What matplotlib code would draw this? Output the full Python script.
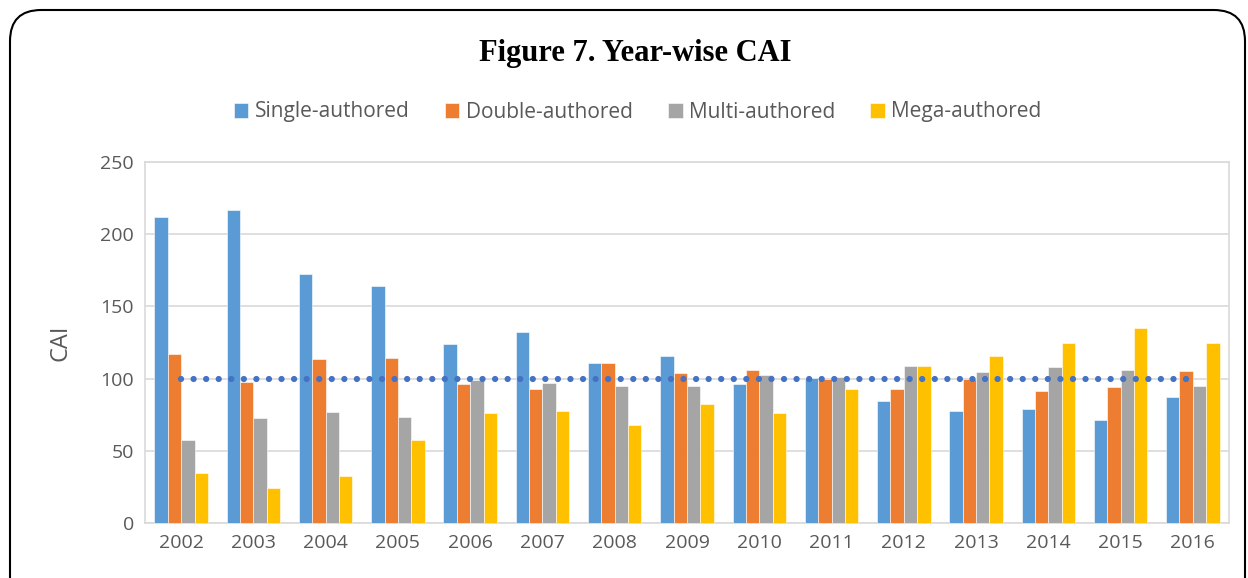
import matplotlib.pyplot as plt
import numpy as np
from matplotlib.patches import FancyBboxPatch

# Giá trị
years = ['2002', '2003', '2004', '2005', '2006', '2007', '2008', '2009',
         '2010', '2011', '2012', '2013', '2014', '2015', '2016']
single = [211.6, 216.9, 172.6, 164.3, 123.9, 132.2, 110.8, 115.8,
          96.5, 100.2, 84.7, 77.8, 79.2, 71.5, 87.0]
double = [117.2, 97.4, 113.5, 114.0, 96.0, 92.8, 111.0, 104.1,
          105.9, 99.7, 92.8, 99.7, 91.6, 94.4, 105.0]
multi = [57.5, 72.7, 76.8, 73.4, 98.8, 97.2, 95.1, 94.6,
         102.5, 101.3, 108.5, 104.3, 108.0, 106.2, 94.6]
mega = [34.8, 24.5, 32.3, 57.5, 76.2, 77.8, 67.8, 82.2,
        76.4, 93.0, 108.9, 115.8, 124.4, 134.8, 124.9]
baseline = [100] * len(years)

series_names = ['Single-authored', 'Double-authored', 'Multi-authored', 'Mega-authored']
colors = ['#5B9BD5', '#ED7D31', '#A5A5A5', '#FFC000']

plt.rcParams['font.family'] = ['Open Sans', 'DejaVu Sans']
txt_color = '#595959'

fig = plt.figure(figsize=(12.48, 5.78), dpi=100)

# Khung bo tròn
frame = FancyBboxPatch((10 / 1248, -0.2), 1235 / 1248, 1.2 - 10 / 578,
                       boxstyle='round,pad=0,rounding_size=0.025',
                       transform=fig.transFigure, facecolor='none',
                       edgecolor='black', linewidth=1.5, mutation_aspect=2.16)
fig.patches.append(frame)

ax = fig.add_axes([145 / 1248, 1 - 523 / 578, 1084 / 1248, 361 / 578])

x = np.arange(len(years))
w = 0.185
data = [single, double, multi, mega]
for i, (vals, name, c) in enumerate(zip(data, series_names, colors)):
    ax.bar(x + (i - 1.5) * w, vals, width=w, color=c, label=name,
           edgecolor='white', linewidth=0.4, zorder=3)

# đường tham chiếu CAI = 100
ax.plot(x, baseline, linestyle=(0, (0.01, 2.0)), color='#4472C4',
        linewidth=4.5, dash_capstyle='round', zorder=4)

ax.set_xlim(-0.5, len(years) - 0.5)
ax.set_ylim(0, 250)
ax.set_yticks(range(0, 251, 50))
ax.set_xticks(x)
ax.set_xticklabels(years)
ax.tick_params(length=0, labelsize=14, labelcolor=txt_color, pad=8)
ax.grid(axis='y', color='#D9D9D9', linewidth=1.2, zorder=0)
for s in ax.spines.values():
    s.set_color('#D9D9D9')
    s.set_linewidth(1.2)
ax.set_ylabel('CAI', fontsize=17, color=txt_color, labelpad=20)

fig.text(0.509, 1 - 53 / 578, 'Figure 7. Year-wise CAI', ha='center', va='center',
         fontsize=22, fontweight='bold', family=['Liberation Serif', 'DejaVu Serif'])

fig.legend(loc='center', bbox_to_anchor=(0.511, 1 - 112 / 578), ncol=4,
           frameon=False, fontsize=15, labelcolor=txt_color,
           handlelength=0.7, handleheight=0.7, handletextpad=0.3, columnspacing=1.7)

plt.savefig('out.png', dpi=100, facecolor='white')
